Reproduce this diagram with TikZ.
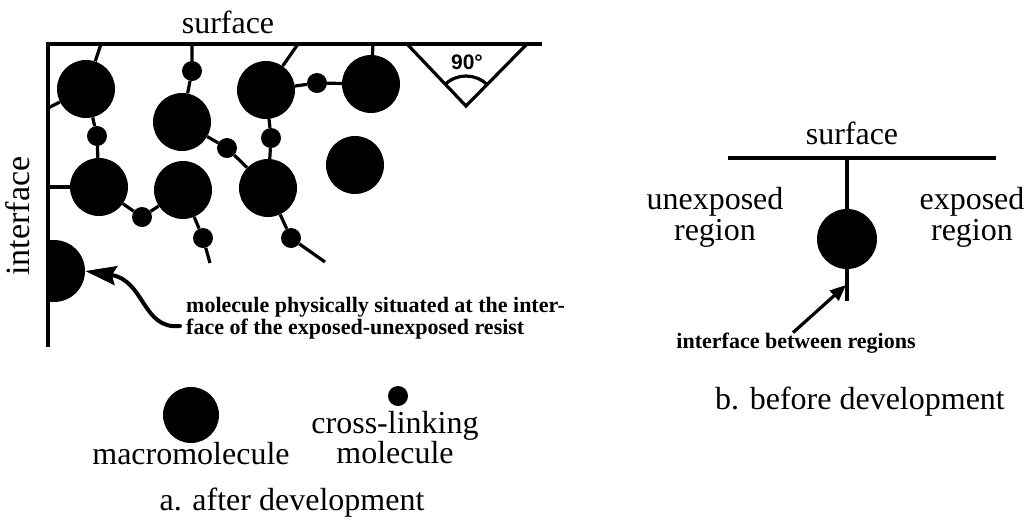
\documentclass[tikz,border=0pt]{standalone}
\usepackage{fontspec}
\setmainfont{Liberation Serif}
\newfontfamily\anglefont{Liberation Sans}
\usepackage{tikz}
\usetikzlibrary{shapes,arrows.meta}
\tikzstyle{macro} = [circle, fill=black, minimum size=58pt, inner sep=0pt]
\tikzstyle{xlink} = [circle, fill=black, minimum size=20pt, inner sep=0pt]
\tikzstyle{bond} = [draw, line width=3.2pt]
\tikzstyle{wall} = [draw, line width=3.4pt]
\tikzstyle{bigtext} = [font=\fontsize{32}{31}\selectfont, align=center, inner sep=0pt]
\tikzstyle{note} = [font=\bfseries\fontsize{22}{22}\selectfont, align=left, inner sep=0pt]

\begin{document}
\begin{tikzpicture}[x=1pt, y=-1pt]
\useasboundingbox (0,0) rectangle (1029,523);

% a. after development
\coordinate (sl) at (48,44);
\coordinate (sr) at (542,44);
\coordinate (ib) at (48,347);
\path [wall] (sr) -- (sl) -- (ib);
\node [bigtext] (surfA) at (228,22) {surface};
\node [bigtext, rotate=90, font=\fontsize{34}{34}\selectfont] (ifaceA) at (18,216) {interface};

% Place nodes
\node [macro] (m1) at (86,89) {};
\node [macro] (m2) at (99,187) {};
\node [macro] (m3) at (182,122) {};
\node [macro] (m4) at (266,90) {};
\node [macro] (m5) at (183,190) {};
\node [macro] (m6) at (371,84) {};
\node [macro] (m7) at (268,188) {};
\node [macro] (m8) at (355,165) {};
\node [xlink] (x1) at (97,136) {};
\node [xlink] (x2) at (192,71) {};
\node [xlink] (x3) at (227,148) {};
\node [xlink] (x4) at (271,138) {};
\node [xlink] (x5) at (142,217) {};
\node [xlink] (x6) at (203,238) {};
\node [xlink] (x7) at (291,238) {};
\node [xlink] (x8) at (317,83) {};
\begin{scope}
  \clip (48,230) rectangle (100,310);
  \node [macro, minimum size=62pt] (m9) at (54,271) {};
\end{scope}
\coordinate (s1) at (101,44);
\coordinate (s2) at (192,44);
\coordinate (s3) at (298,44);
\coordinate (s4) at (373,44);
\coordinate (i1) at (48,108);
\coordinate (i2) at (48,187);
\coordinate (e1) at (210,263);
\coordinate (e2) at (325,262);

% Draw edges
\path [bond] (m1) -- (s1);
\path [bond] (m1) -- (i1);
\path [bond] (m1) -- (x1) -- (m2);
\path [bond] (m2) -- (i2);
\path [bond] (s2) -- (x2) -- (m3);
\path [bond] (m3) -- (x3) -- (m7);
\path [bond] (m4) -- (s3);
\path [bond] (m4) -- (x4) -- (m7);
\path [bond] (m4) -- (x8) -- (m6);
\path [bond] (m6) -- (s4);
\path [bond] (m2) -- (x5) -- (m5);
\path [bond] (m5) -- (x6) -- (e1);
\path [bond] (m7) -- (x7) -- (e2);

% right angle at the surface
\coordinate (ta) at (407,44);
\coordinate (tb) at (527,44);
\coordinate (tv) at (466,106);
\path [bond] (ta) -- (tv) -- (tb);
\path [bond] ([shift={(45:30pt)}]tv) arc [start angle=45, end angle=135, radius=30pt];
\node [font=\anglefont\bfseries\fontsize{21}{21}\selectfont, inner sep=0pt] (ang) at (467,62) {90°};

\node [note, anchor=north west] (edgenote) at (186,297)
  {molecule physically situated at the inter-\\face of the exposed-unexposed resist};
\coordinate (tail) at (180,326);
\draw [line width=4pt, line cap=round, -{Stealth[length=31pt, width=19pt, inset=4pt]}]
  (tail) .. controls (142,330) and (145,280) .. (m9.east);

% legend
\node [macro, minimum size=56pt] (keyM) at (191,415) {};
\node [xlink] (keyX) at (398,396) {};
\node [bigtext, anchor=base] (keyMtxt) at (191,464) {macromolecule};
\node [bigtext, anchor=south, font=\fontsize{32}{24}\selectfont] (keyXtxt) at (395,464) {cross-linking\\molecule};
\node [bigtext, anchor=base] (capA) at (292,510) {a. after development};

% b. before development
\coordinate (bl) at (728,158);
\coordinate (br) at (996,158);
\coordinate (bt) at (847,158);
\coordinate (bb) at (847,301);
\path [wall] (bl) -- (br);
\node [bigtext] (surfB) at (852,133) {surface};
\path [bond] (bt) -- (bb);
\node [macro, minimum size=60pt] (mb) at (847,239) {};
\node [bigtext, anchor=north] (unexp) at (715,187) {unexposed\\region};
\node [bigtext, anchor=north] (exp) at (972,187) {exposed\\region};
\node [note] (between) at (796,343) {interface between regions};
\coordinate (tipB) at (846,285);
\draw [line width=3.2pt, -{Triangle[length=16pt, width=13pt]}] ([xshift=-3pt]between.north) -- (tipB);
\node [bigtext, anchor=base] (capB) at (860,409) {b. before development};
\end{tikzpicture}
\end{document}
